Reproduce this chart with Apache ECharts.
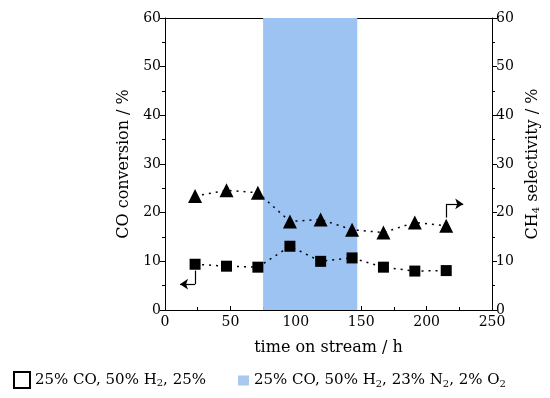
<!DOCTYPE html>
<html><head><meta charset="utf-8">
<script src="https://cdn.jsdelivr.net/npm/echarts@6/dist/echarts.min.js"></script>
<style>html,body{margin:0;padding:0;background:#fff}#c{width:550px;height:398px}</style>
</head><body><div id="c"></div>
<script>
var times = [23, 47, 71, 95.5, 119, 143, 167, 191, 215];
var coConversion = [9.4, 9.0, 8.8, 13.1, 10.0, 10.7, 8.8, 8.0, 8.1];
var ch4Selectivity = [23.4, 24.6, 24.1, 18.2, 18.6, 16.5, 15.9, 18.0, 17.3];
var band = [75, 147];
var xTicks = [0, 50, 100, 150, 200, 250];
var yTicks = [0, 10, 20, 30, 40, 50, 60];
var legendA = '25% CO, 50% H{s|2}, 25%';
var legendB = '25% CO, 50% H{s|2}, 23% N{s|2}, 2% O{s|2}';
var leftArrow = [[23, 8.1], [23, 5.3], [11.5, 5.3]];
var rightArrow = [[215, 19.0], [215, 21.8], [228, 21.8]];

var FONT = '"DejaVu Serif", "Liberation Serif", serif';
var chart = echarts.init(document.getElementById('c'));
function pair(a, b, endSym) {
  return [{coord: a, symbol: 'none'}, {coord: b, symbol: endSym}];
}
var subRich = {s: {fontSize: 10, fontFamily: FONT, color: '#000', padding: [7, 0, 0, 0]}};
var yAxisCommon = {
  type: 'value', min: yTicks[0], max: yTicks[yTicks.length - 1], interval: 10,
  axisLine: {show: true, onZero: false, lineStyle: {color: '#000', width: 1}},
  axisTick: {show: true, inside: false, length: 5, lineStyle: {color: '#000'}},
  minorTick: {show: true, splitNumber: 2, length: 3, lineStyle: {color: '#000'}},
  splitLine: {show: false},
  axisLabel: {color: '#000', fontFamily: FONT, fontSize: 14, margin: 4},
  nameLocation: 'middle',
  nameTextStyle: {color: '#000', fontFamily: FONT, fontSize: 16,
    rich: {s: {fontSize: 10, fontFamily: FONT, color: '#000', padding: [8, 0, 0, 0]}}}
};
var legendText = {color: '#000', fontFamily: FONT, fontSize: 15, rich: subRich};
chart.setOption({
  animation: false,
  grid: {left: 165, right: 58, top: 18, bottom: 88},
  legend: [{
    left: 8, top: 366, itemWidth: 16, itemHeight: 16, itemGap: 4,
    data: [{name: 'A', icon: 'rect', itemStyle: {color: '#fff', borderColor: '#000', borderWidth: 2}}],
    formatter: function () { return legendA; },
    textStyle: legendText
  }, {
    left: 233, top: 368, itemWidth: 11, itemHeight: 10,
    data: [{name: 'B', icon: 'rect', itemStyle: {color: '#a9c9ef'}}],
    formatter: function () { return legendB; },
    textStyle: legendText
  }],
  xAxis: [{
    type: 'value', min: xTicks[0], max: xTicks[xTicks.length - 1], interval: 50,
    name: 'time on stream / h', nameLocation: 'middle', nameGap: 30,
    nameTextStyle: {color: '#000', fontFamily: FONT, fontSize: 16},
    axisLine: {onZero: false, lineStyle: {color: '#000'}},
    axisTick: {inside: true, length: 4, lineStyle: {color: '#000'}},
    minorTick: {show: true, splitNumber: 2, length: 3, lineStyle: {color: '#000'}},
    splitLine: {show: false},
    axisLabel: {color: '#000', fontFamily: FONT, fontSize: 14, margin: 5}
  }, {
    type: 'value', position: 'top', min: 0, max: 250,
    axisLine: {show: true, onZero: false, lineStyle: {color: '#000'}},
    axisTick: {show: false}, axisLabel: {show: false}, splitLine: {show: false}
  }],
  yAxis: [
    Object.assign({}, yAxisCommon, {position: 'left', name: 'CO conversion / %', nameGap: 28}),
    Object.assign({}, yAxisCommon, {position: 'right', name: 'CH{s|4} selectivity / %', nameGap: 28, nameRotate: 90})
  ],
  series: [
    {
      name: 'A', type: 'line', data: [], yAxisIndex: 0,
      itemStyle: {color: '#fff', borderColor: '#000'}
    },
    {
      name: 'B', type: 'line', data: [], yAxisIndex: 0, silent: true,
      itemStyle: {color: '#a9c9ef'},
      markArea: {
        silent: true,
        itemStyle: {color: '#9dc3f2', opacity: 1},
        data: [[{xAxis: band[0], yAxis: 0}, {xAxis: band[1], yAxis: 60}]]
      }
    },
    {
      name: 'CO conversion', type: 'line', yAxisIndex: 0, z: 5,
      data: times.map(function (t, i) { return [t, coConversion[i]]; }),
      symbol: 'rect', symbolSize: 11,
      itemStyle: {color: '#000'},
      lineStyle: {color: '#000', width: 1.5, type: [2, 5]},
      markLine: {
        silent: true, symbolSize: 8,
        label: {show: false},
        lineStyle: {color: '#000', width: 1.2, type: 'solid'},
        data: [pair(leftArrow[0], leftArrow[1], 'none'), pair(leftArrow[1], leftArrow[2], 'arrow')]
      }
    },
    {
      name: 'CH4 selectivity', type: 'line', yAxisIndex: 1, z: 5,
      data: times.map(function (t, i) { return [t, ch4Selectivity[i]]; }),
      symbol: 'triangle', symbolSize: 14,
      itemStyle: {color: '#000'},
      lineStyle: {color: '#000', width: 1.5, type: [2, 5]},
      markLine: {
        silent: true, symbolSize: 8,
        label: {show: false},
        lineStyle: {color: '#000', width: 1.2, type: 'solid'},
        data: [pair(rightArrow[0], rightArrow[1], 'none'), pair(rightArrow[1], rightArrow[2], 'arrow')]
      }
    }
  ]
});
</script></body></html>
